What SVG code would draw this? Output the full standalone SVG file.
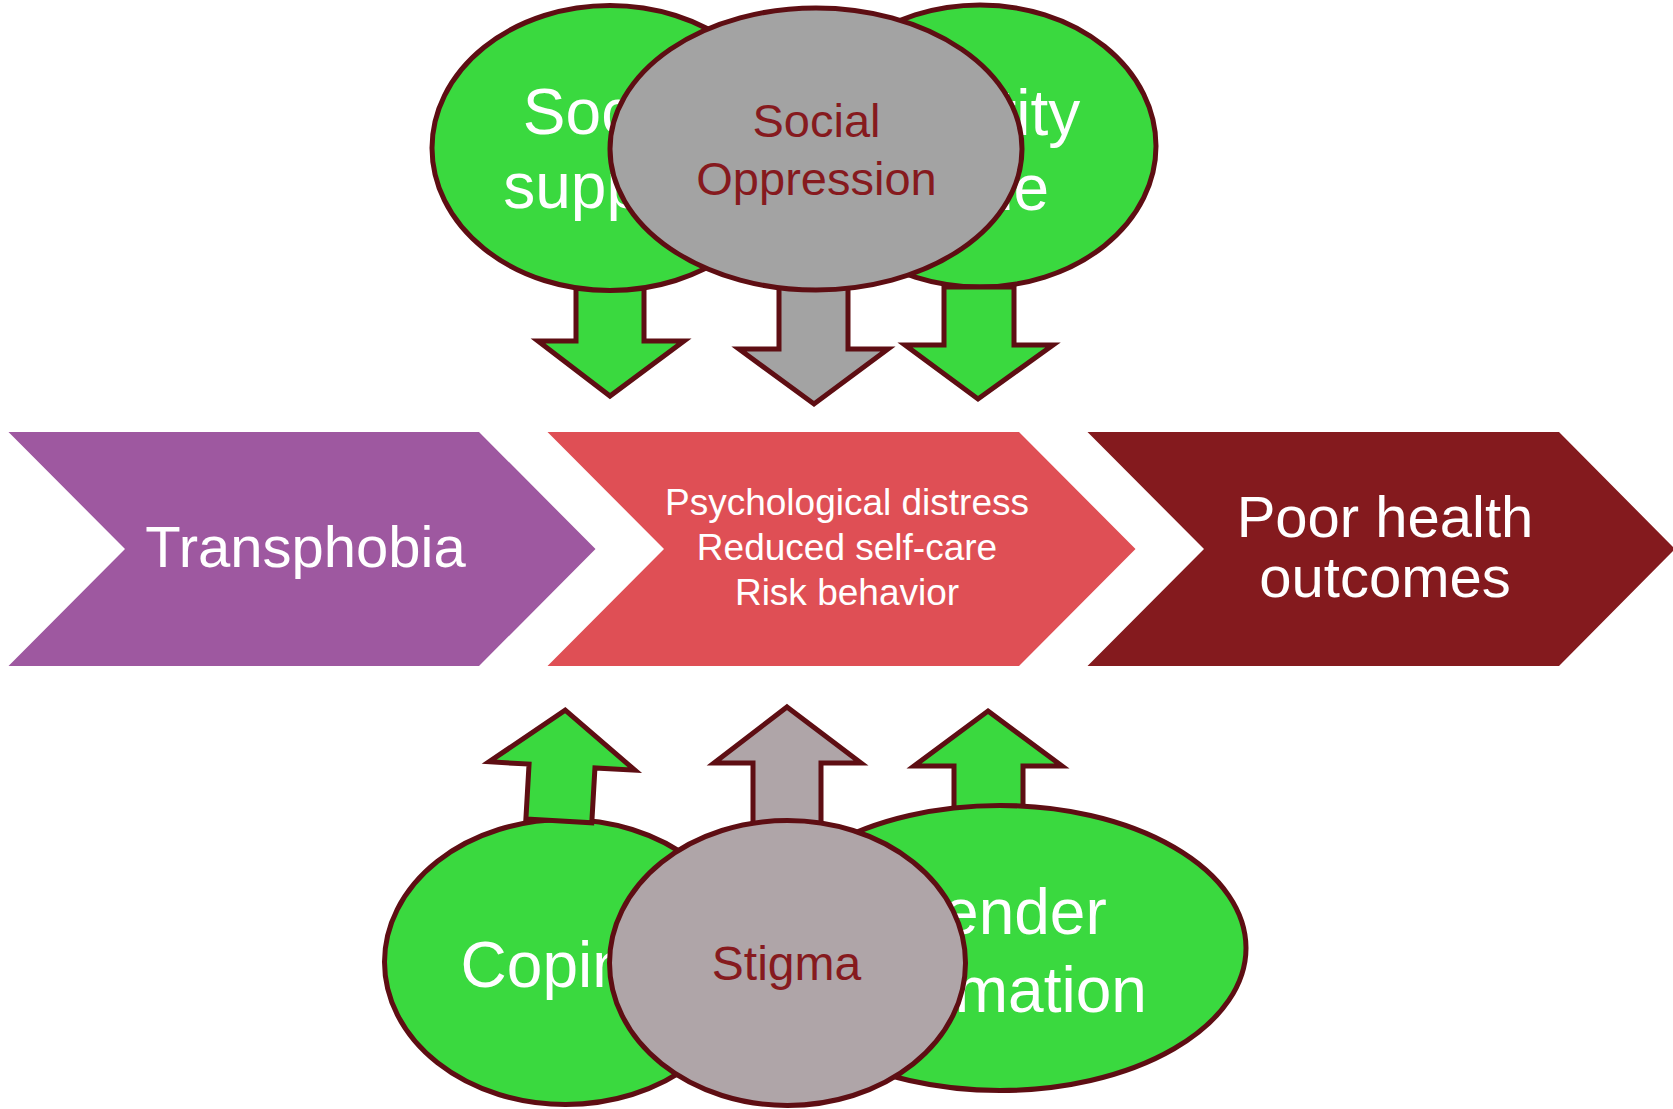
<svg xmlns="http://www.w3.org/2000/svg" width="1673" height="1109" viewBox="0 0 1673 1109">
<style>
.g{fill:#3AD93F;stroke:#5E0E13;stroke-width:5;stroke-miterlimit:10}
.gy{fill:#A3A3A3;stroke:#5E0E13;stroke-width:5;stroke-miterlimit:10}
.st{fill:#AFA5A8;stroke:#5E0E13;stroke-width:5;stroke-miterlimit:10}
text{font-family:"Liberation Sans",Arial,sans-serif;text-anchor:middle}
.w{fill:#FFFFFF}
.d{fill:#861A1E}
</style>
<rect width="1673" height="1109" fill="#FFFFFF"/>
<g id="transphobia">
<polygon points="8.5,432 479,432 595.5,549 479,666 8.5,666 125,549" fill="#9E58A0"/>
<text class="w" x="305.5" y="567" font-size="58">Transphobia</text>
</g>
<g id="effects">
<polygon points="547.5,432 1019,432 1135.5,549 1019,666 547.5,666 664,549" fill="#DF4F55"/>
<text class="w" x="847" y="515" font-size="37">Psychological distress</text>
<text class="w" x="847" y="560" font-size="37">Reduced self-care</text>
<text class="w" x="847" y="605" font-size="37">Risk behavior</text>
</g>
<g id="outcomes">
<polygon points="1087.5,432 1559,432 1675,549 1559,666 1087.5,666 1204,549" fill="#841A1E"/>
<text class="w" x="1385" y="537" font-size="58">Poor health</text>
<text class="w" x="1385" y="597" font-size="58">outcomes</text>
</g>
<g id="connectors">
<polygon id="arrow-social-support" class="g" points="576,250 644,250 644,341 684,341 610,396 538,341 576,341"/>
<polygon id="arrow-oppression" class="gy" points="779,250 848,250 848,349 888,349 814,404 739,349 779,349"/>
<polygon id="arrow-stigma" class="st" points="787,707 861,763 821,763 821,840 753,840 753,763 714,763"/>
<polygon id="arrow-gender" class="g" points="988,711 1062,766 1023,766 1023,830 954,830 954,766 914,766"/>
</g>
<g id="social-support">
<ellipse class="g" cx="610" cy="148" rx="178" ry="142.5"/>
<text class="w" x="610" y="134" font-size="64">Social</text>
<text class="w" x="610" y="208" font-size="64">support</text>
</g>
<g id="identity-pride">
<ellipse class="g" cx="980" cy="146" rx="176" ry="141"/>
<text class="w" x="977" y="135" font-size="64">Identity</text>
<text class="w" x="978" y="210" font-size="64">pride</text>
</g>
<g id="social-oppression">
<ellipse class="gy" cx="816" cy="149" rx="206" ry="141"/>
<text class="d" x="816.5" y="137" font-size="47">Social</text>
<text class="d" x="816.5" y="195" font-size="47">Oppression</text>
</g>
<g id="coping">
<ellipse class="g" cx="565.5" cy="962" rx="181" ry="142.5"/>
<text class="w" x="562" y="987" font-size="64">Coping</text>
</g>
<g id="gender-affirmation">
<ellipse class="g" cx="1000" cy="948" rx="246" ry="142.5"/>
<text class="w" x="1000" y="934" font-size="64">Gender</text>
<text class="w" x="998" y="1012" font-size="64">affirmation</text>
</g>
<g id="connectors-front">
<polygon id="arrow-identity-pride" class="g" points="944,287 1014,287 1014,345 1053,345 978,399 905,345 944,345"/>
<polygon id="arrow-coping" class="g" transform="rotate(3.3 562 766)" points="562,710 635,766 595,766 595,821 529,821 529,766 489,766"/>
</g>
<g id="stigma">
<ellipse class="st" cx="787.5" cy="963" rx="178" ry="142.5"/>
<text class="d" x="786.5" y="980" font-size="48">Stigma</text>
</g>
</svg>
